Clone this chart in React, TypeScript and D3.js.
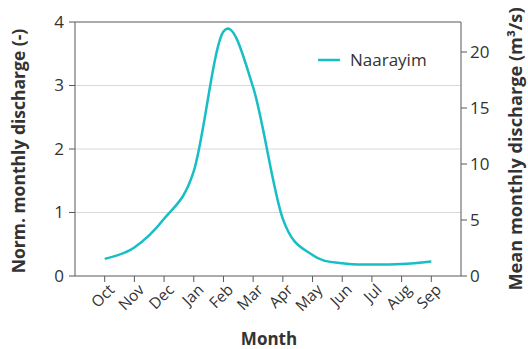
import React from "react";
import * as d3 from "d3";

const months = ["Oct", "Nov", "Dec", "Jan", "Feb", "Mar", "Apr", "May", "Jun", "Jul", "Aug", "Sep"];
const naarayim = [0.27, 0.45, 0.9, 1.65, 3.85, 2.97, 0.9, 0.33, 0.2, 0.18, 0.19, 0.23];
const leftTicks = [0, 1, 2, 3, 4];
const rightTicks = [0, 5, 10, 15, 20];
const seriesName = "Naarayim";

const W = 528, H = 349;
const left = 75, right = 461, top = 22, bottom = 276;
const font = "'Open Sans', sans-serif";
const axisColor = "#595959";
const textColor = "#333333";

export default function App() {
  const x = d3.scalePoint<string>().domain(months).range([left, right]).padding(1);
  const y = d3.scaleLinear().domain([0, 4]).range([bottom, top]);
  const y2 = d3.scaleLinear().domain([0, 22.68]).range([bottom, top]);
  const line = d3
    .line<number>()
    .x((_, i) => x(months[i]) as number)
    .y((d) => y(d))
    .curve(d3.curveCardinal.tension(0));

  return (
    <svg width={W} height={H} style={{ position: "absolute", left: 0, top: 0 }} fontFamily={font}>
      {leftTicks.slice(1, 4).map((t) => (
        <line key={"g" + t} x1={left} x2={right} y1={y(t)} y2={y(t)} stroke="#d9d9d9" strokeWidth={1} />
      ))}
      <line x1={left} x2={right} y1={top} y2={top} stroke={axisColor} strokeWidth={1} />
      <line x1={left} x2={left} y1={top} y2={bottom} stroke={axisColor} strokeWidth={1} />
      <line x1={right} x2={right} y1={top} y2={bottom} stroke={axisColor} strokeWidth={1} />
      <line x1={left} x2={right} y1={bottom} y2={bottom} stroke={axisColor} strokeWidth={1} />
      {leftTicks.map((t) => (
        <g key={"l" + t}>
          <line x1={left - 6} x2={left} y1={y(t)} y2={y(t)} stroke={axisColor} />
          <text x={64} y={y(t)} dy="0.35em" textAnchor="end" fontSize={17} fill={textColor}>
            {t}
          </text>
        </g>
      ))}
      {rightTicks.map((t) => (
        <g key={"r" + t}>
          <line x1={right} x2={right + 6} y1={y2(t)} y2={y2(t)} stroke={axisColor} />
          <text x={470} y={y2(t)} dy="0.35em" textAnchor="start" fontSize={17} fill={textColor}>
            {t}
          </text>
        </g>
      ))}
      {months.map((m) => (
        <g key={m}>
          <line x1={x(m)} x2={x(m)} y1={bottom} y2={bottom + 6} stroke={axisColor} />
          <text
            transform={`translate(${(x(m) as number) + 7},${bottom + 11}) rotate(-45)`}
            textAnchor="end"
            dy="0.35em"
            fontSize={15.5}
            fill={textColor}
          >
            {m}
          </text>
        </g>
      ))}
      <path d={line(naarayim) || ""} fill="none" stroke="#17BEC3" strokeWidth={2.5} />
      <line x1={318} x2={340} y1={60} y2={60} stroke="#17BEC3" strokeWidth={2.5} />
      <text x={350} y={60} dy="0.35em" fontSize={17} fill={textColor}>
        {seriesName}
      </text>
      <text x={269} y={345} textAnchor="middle" fontSize={17} fontWeight="bold" fill={textColor}>
        Month
      </text>
      <text
        transform={`translate(19,151) rotate(-90)`}
        textAnchor="middle"
        dy="0.35em"
        fontSize={17.5}
        fontWeight="bold"
        fill={textColor}
      >
        Norm. monthly discharge (-)
      </text>
      <text
        transform={`translate(516,149) rotate(-90)`}
        textAnchor="middle"
        dy="0.35em"
        fontSize={18.2}
        fontWeight="bold"
        fill={textColor}
      >
        Mean monthly discharge (m³/s)
      </text>
    </svg>
  );
}
